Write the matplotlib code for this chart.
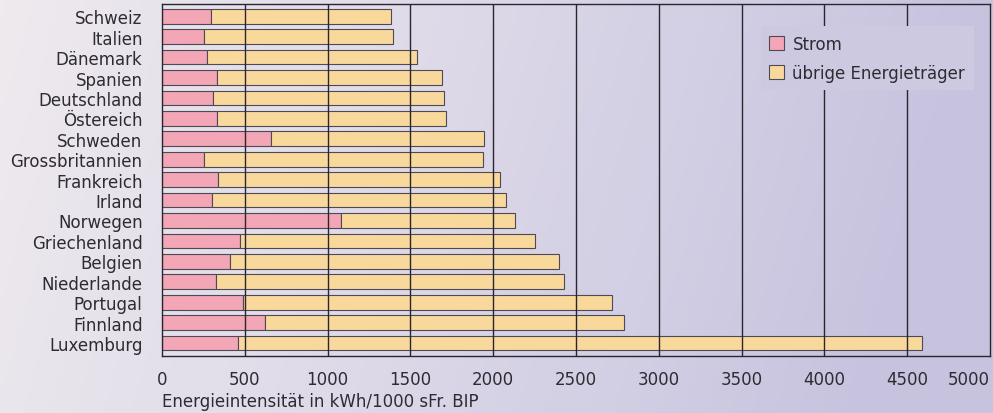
import matplotlib

matplotlib.use("Agg")
import matplotlib.pyplot as plt
import numpy as np
from matplotlib.colors import LinearSegmentedColormap
from matplotlib.patches import Patch

countries = [
    "Schweiz", "Italien", "Dänemark", "Spanien", "Deutschland", "Östereich",
    "Schweden", "Grossbritannien", "Frankreich", "Irland", "Norwegen",
    "Griechenland", "Belgien", "Niederlande", "Portugal", "Finnland", "Luxemburg",
]
# total intensity per country and the electricity share of it (kWh/1000 sFr. BIP)
total = [1383, 1397, 1540, 1691, 1703, 1713, 1947, 1939, 2042, 2076, 2130,
         2255, 2398, 2426, 2717, 2791, 4587]
strom = [294, 256, 270, 334, 310, 330, 659, 256, 337, 304, 1078,
         473, 413, 328, 490, 625, 461]
x_ticks = [0, 500, 1000, 1500, 2000, 2500, 3000, 3500, 4000, 4500, 5000]

PINK = "#f2a6b6"
YELLOW = "#f9d89c"
EDGE = "#4e4a55"
TEXT = "#2f2b33"

plt.rcParams["font.family"] = ["DejaVu Sans"]

fig = plt.figure(figsize=(9.93, 4.14), dpi=100)

# soft lavender gradient behind everything
bg = fig.add_axes([0, 0, 1, 1], zorder=-10)
bg_cmap = LinearSegmentedColormap.from_list("bg", ["#eeeaee", "#dcd8e8", "#c7c3df"])
grad = np.linspace(0, 1, 256).reshape(1, -1)
grad = grad + np.linspace(0, 0.12, 64).reshape(-1, 1)
bg.imshow(np.clip(grad, 0, 1), aspect="auto", cmap=bg_cmap, extent=[0, 1, 0, 1])
bg.axis("off")

ax = fig.add_axes([0.1631, 0.1384, 0.834, 0.8496])
ax.set_facecolor("none")

y = np.arange(len(countries))
strom_arr = np.array(strom)
rest = np.array(total) - strom_arr
ax.barh(y, strom_arr, height=0.72, color=PINK, edgecolor=EDGE, linewidth=0.8, zorder=2)
ax.barh(y, rest, left=strom_arr, height=0.72, color=YELLOW, edgecolor=EDGE,
        linewidth=0.8, zorder=2)

for xv in x_ticks[1:-1]:
    ax.axvline(xv, color="#2a2630", linewidth=1.0, zorder=3)

ax.set_xlim(0, 5000)
ax.set_ylim(16.62, -0.6)
ax.set_yticks(y, labels=countries)
ax.set_xticks(x_ticks, labels=[str(v) for v in x_ticks])
ax.get_xticklabels()[-1].set_horizontalalignment("right")
ax.get_xticklabels()[-1].set_x(1.0)
ax.tick_params(axis="both", length=0, labelsize=12, colors=TEXT)
ax.tick_params(axis="y", pad=14)
ax.tick_params(axis="x", pad=10)
for spine in ax.spines.values():
    spine.set_color("#2a2630")
    spine.set_linewidth(1.0)

ax.set_xlabel("Energieintensität in kWh/1000 sFr. BIP", fontsize=12,
              color=TEXT, loc="left", labelpad=3)

handles = [
    Patch(facecolor=PINK, edgecolor=EDGE, linewidth=0.8, label="Strom"),
    Patch(facecolor=YELLOW, edgecolor=EDGE, linewidth=0.8, label="übrige Energieträger"),
]
leg = ax.legend(handles=handles, loc="upper right", bbox_to_anchor=(0.99, 0.96),
                fontsize=12, frameon=True, facecolor="#cdc9e1", edgecolor="none",
                framealpha=1.0, fancybox=False, handlelength=0.9, handleheight=0.9,
                handletextpad=0.5, labelspacing=0.65, borderpad=0.5)
leg.set_zorder(5)
for t in leg.get_texts():
    t.set_color(TEXT)

fig.savefig("out.png", dpi=100)
